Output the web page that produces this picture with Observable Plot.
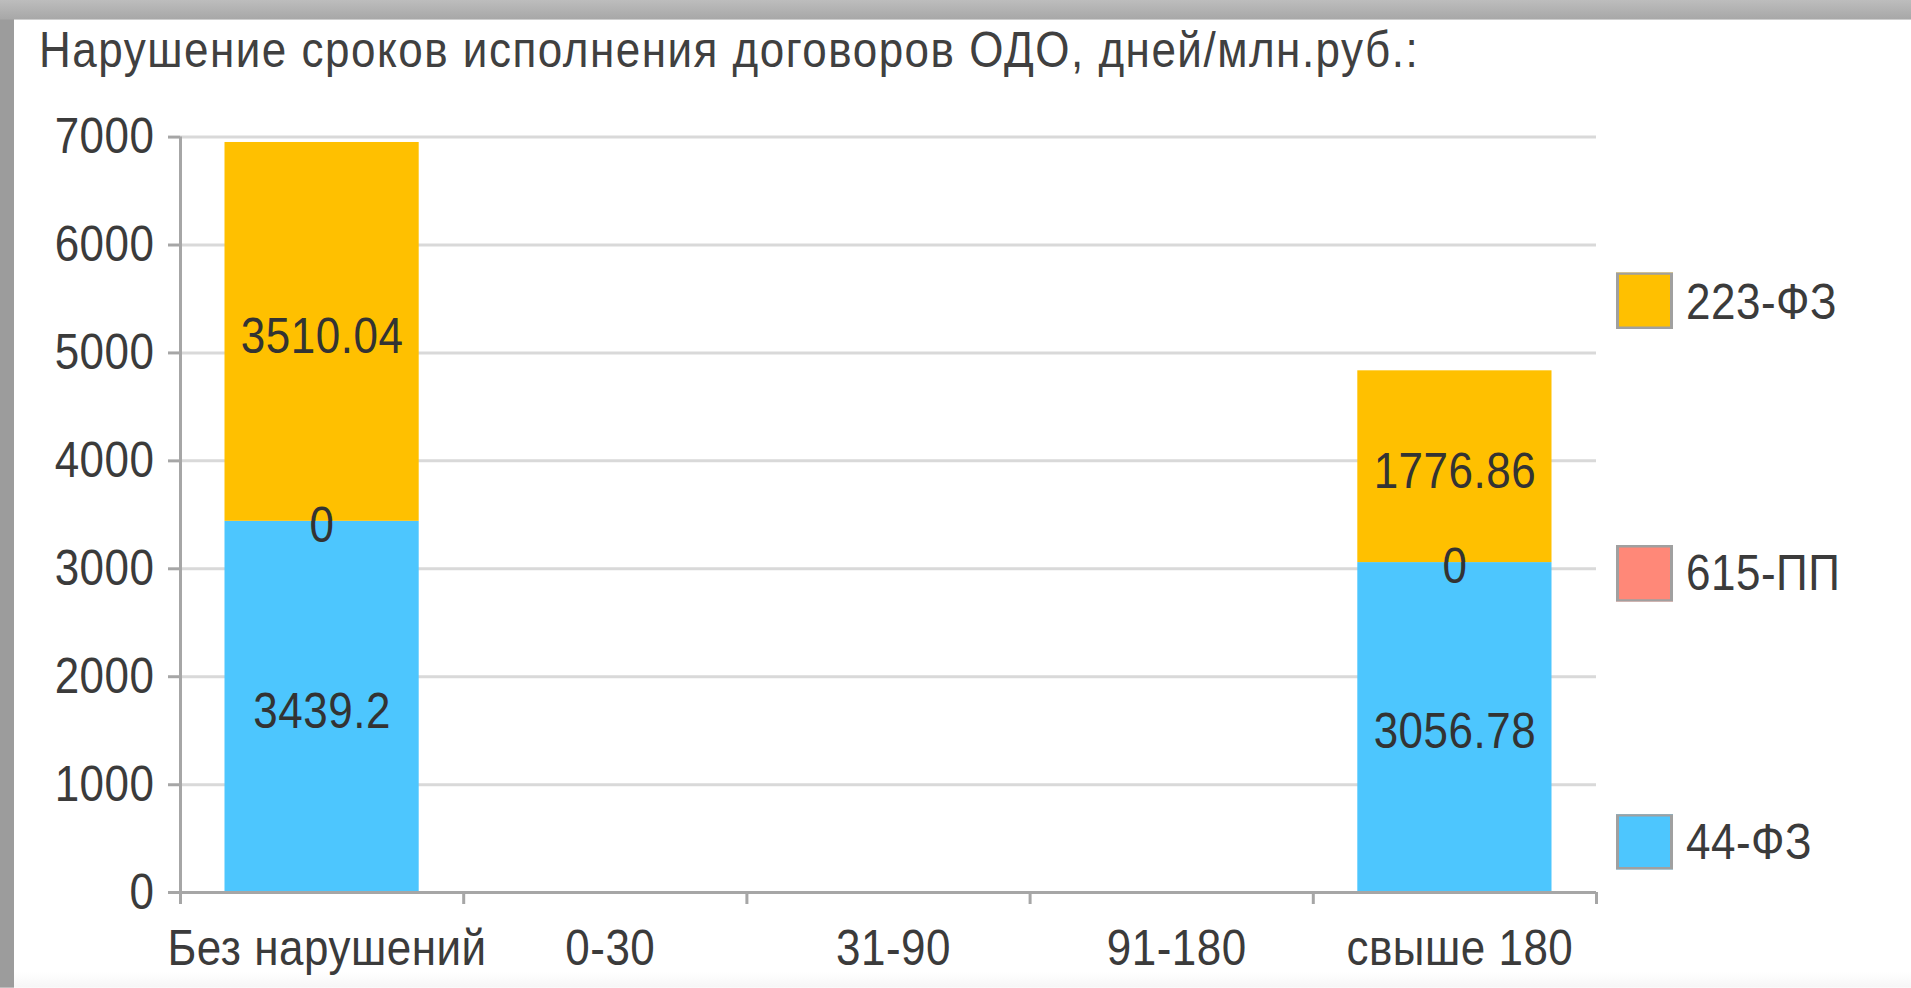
<!DOCTYPE html>
<html>
<head>
<meta charset="utf-8">
<script src="https://cdn.jsdelivr.net/npm/d3@7"></script>
<script src="https://cdn.jsdelivr.net/npm/@observablehq/plot@0.6"></script>
<style>
  html { margin: 0; padding: 0; background: #fff; overflow: hidden; }
  body { margin: 0; padding: 0; background: #fff; width: 1911px; height: 988px; }
  #frame {
    position: relative; width: 1911px; height: 859.13px; background: #fff;
    transform: scaleY(1.15); transform-origin: 0 0; overflow: hidden;
    font-family: "Liberation Sans", Arial, sans-serif;
  }
  #topband { position: absolute; left: 0; top: 0; width: 1911px; height: 17.4px;
    background: linear-gradient(#bdbdbd, #a7a7a7); z-index: 3; }
  #leftband { position: absolute; left: 0; top: 0; width: 14px; height: 100%;
    background: #9c9c9c; z-index: 2; }
  #bottomband { position: absolute; left: 0; bottom: 0; width: 1911px; height: 14px;
    background: linear-gradient(#ffffff, #f6f6f6); }
  #title { position: absolute; left: 39px; top: 21px; font-size: 44px; line-height: 44px;
    letter-spacing: 1.5px; color: #404040; white-space: nowrap; }
  #chart { position: absolute; left: 0; top: 80px; }
  .legend-item { position: absolute; left: 1616px; display: flex; align-items: center;
    height: 48.7px; }
  .swatch { box-sizing: border-box; width: 57px; height: 48.7px;
    border-left: 3px solid #a0a0a0; border-right: 3px solid #a0a0a0;
    border-top: 2.6px solid #a0a0a0; border-bottom: 2.6px solid #a0a0a0; }
  .legend-label { margin-left: 13px; font-size: 44px; line-height: 44px; color: #3b3b3b;
    letter-spacing: 0.5px; white-space: nowrap; }
  #chart svg text { letter-spacing: 0.5px; }
</style>
</head>
<body>
<div id="frame">
  <div id="bottomband"></div>
  <div id="title">Нарушение сроков исполнения договоров ОДО, дней/млн.руб.:</div>
  <div id="chart"></div>
  <div id="legend"></div>
  <div id="leftband"></div>
  <div id="topband"></div>
</div>
<script>
// ---- data ----
const categories = ["Без нарушений", "0-30", "31-90", "91-180", "свыше 180"];
const seriesNames = ["44-ФЗ", "615-ПП", "223-ФЗ"];
const seriesColors = ["#4dc6fe", "#ff8878", "#ffc000"];
const values44 = [3439.2, null, null, null, 3056.78];
const values615 = [0, null, null, null, 0];
const values223 = [3510.04, null, null, null, 1776.86];
const yTicks = [0, 1000, 2000, 3000, 4000, 5000, 6000, 7000];

// ---- stacked table ----
const seriesValues = [values44, values615, values223];
const rows = [];
categories.forEach((c, i) => {
  let base = 0;
  seriesNames.forEach((s, j) => {
    const v = seriesValues[j][i];
    if (v == null) return;
    rows.push({i, category: c, series: s, value: v, y1: base, y2: base + v});
    base += v;
  });
});

const axisColor = "#a6a6a6";
const textColor = "#3b3b3b";

const plot = Plot.plot({
  width: 1911,
  height: 779,
  marginLeft: 180,
  marginRight: 315,
  marginTop: 38.7,
  marginBottom: 83.35,
  style: {background: "transparent", fontFamily: "'Liberation Sans', Arial, sans-serif", fontSize: "44px", color: textColor, overflow: "visible"},
  x: {type: "linear", domain: [0, categories.length], axis: null},
  y: {domain: [0, 7000], axis: null},
  color: {domain: seriesNames, range: seriesColors},
  marks: [
    Plot.gridY(yTicks, {stroke: "#d9d9d9", strokeOpacity: 1, strokeWidth: 2.6}),
    Plot.rectY(rows, {x1: d => d.i, x2: d => d.i + 1, y1: "y1", y2: "y2", fill: "series", insetLeft: 44.5, insetRight: 44.5}),
    Plot.axisY(yTicks, {tickSize: 12, tickPadding: 14, stroke: axisColor, strokeWidth: 2.6, fill: textColor, fontSize: 44, tickFormat: d3.format("d")}),
    Plot.ruleX([0], {y1: 0, y2: 7000, stroke: axisColor, strokeWidth: 3}),
    Plot.ruleY([0], {stroke: axisColor, strokeWidth: 2.6}),
    Plot.axisX(d3.range(categories.length + 1), {tickSize: 10.4, stroke: axisColor, strokeWidth: 3, tickFormat: () => ""}),
    Plot.text(categories, {x: (d, i) => i + 0.5, y: 0, text: d => d, dy: 49, dx: 5, fontSize: 44, fill: textColor}),
    Plot.text(rows, {x: d => d.i + 0.5, y: d => (d.y1 + d.y2) / 2, text: d => String(d.value), dy: 4, fontSize: 44, fill: "#333"})
  ]
});
document.getElementById("chart").appendChild(plot);

// ---- legend ----
const legendTops = {"223-ФЗ": 237.4, "615-ПП": 473.9, "44-ФЗ": 707.8};
const legend = document.getElementById("legend");
seriesNames.slice().reverse().forEach(name => {
  const item = document.createElement("div");
  item.className = "legend-item";
  item.style.top = legendTops[name] + "px";
  const sw = document.createElement("div");
  sw.className = "swatch";
  sw.style.background = seriesColors[seriesNames.indexOf(name)];
  const lab = document.createElement("span");
  lab.className = "legend-label";
  lab.textContent = name;
  item.appendChild(sw);
  item.appendChild(lab);
  legend.appendChild(item);
});
</script>
</body>
</html>
